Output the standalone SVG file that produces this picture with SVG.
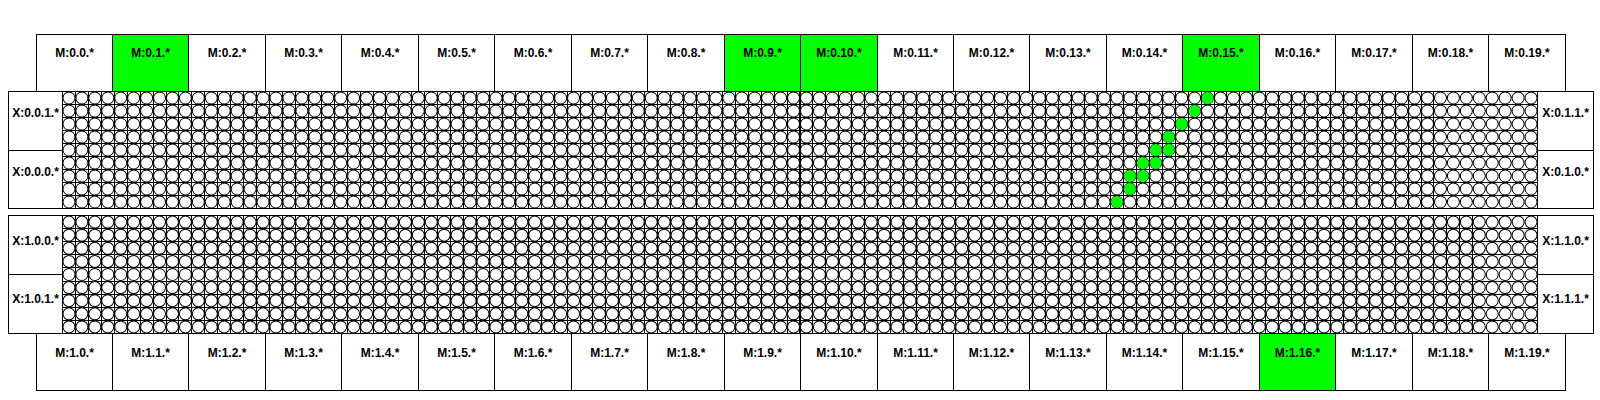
<svg xmlns="http://www.w3.org/2000/svg" width="1600" height="400" viewBox="0 0 1600 400">
<style>
.box{fill:#fff;stroke:#000;stroke-width:1}
.on{fill:#00ff00;stroke:#000;stroke-width:1}
.lbl{font-family:"Liberation Sans",Arial,Helvetica,sans-serif;font-weight:bold;font-size:12px;fill:#000;text-anchor:middle}
.pin{fill:#00ff00;stroke:none}
.frame{fill:none;stroke:#000;stroke-width:1}
.gl{fill:none;stroke:#000;stroke-width:1;shape-rendering:crispEdges}
.c{fill:#fff;stroke:#000;stroke-width:1}
</style>
<defs>
<g id="crow">
<circle class="c" cx="68.96" cy="0" r="6"/><circle class="c" cx="81.88" cy="0" r="6"/><circle class="c" cx="94.80" cy="0" r="6"/><circle class="c" cx="107.72" cy="0" r="6"/><circle class="c" cx="120.64" cy="0" r="6"/><circle class="c" cx="133.56" cy="0" r="6"/><circle class="c" cx="146.48" cy="0" r="6"/><circle class="c" cx="159.40" cy="0" r="6"/><circle class="c" cx="172.32" cy="0" r="6"/><circle class="c" cx="185.24" cy="0" r="6"/>
<circle class="c" cx="198.16" cy="0" r="6"/><circle class="c" cx="211.08" cy="0" r="6"/><circle class="c" cx="224.00" cy="0" r="6"/><circle class="c" cx="236.92" cy="0" r="6"/><circle class="c" cx="249.84" cy="0" r="6"/><circle class="c" cx="262.76" cy="0" r="6"/><circle class="c" cx="275.68" cy="0" r="6"/><circle class="c" cx="288.60" cy="0" r="6"/><circle class="c" cx="301.52" cy="0" r="6"/><circle class="c" cx="314.44" cy="0" r="6"/>
<circle class="c" cx="327.36" cy="0" r="6"/><circle class="c" cx="340.28" cy="0" r="6"/><circle class="c" cx="353.20" cy="0" r="6"/><circle class="c" cx="366.12" cy="0" r="6"/><circle class="c" cx="379.04" cy="0" r="6"/><circle class="c" cx="391.96" cy="0" r="6"/><circle class="c" cx="404.88" cy="0" r="6"/><circle class="c" cx="417.80" cy="0" r="6"/><circle class="c" cx="430.72" cy="0" r="6"/><circle class="c" cx="443.64" cy="0" r="6"/>
<circle class="c" cx="456.56" cy="0" r="6"/><circle class="c" cx="469.48" cy="0" r="6"/><circle class="c" cx="482.40" cy="0" r="6"/><circle class="c" cx="495.32" cy="0" r="6"/><circle class="c" cx="508.24" cy="0" r="6"/><circle class="c" cx="521.16" cy="0" r="6"/><circle class="c" cx="534.08" cy="0" r="6"/><circle class="c" cx="547.00" cy="0" r="6"/><circle class="c" cx="559.92" cy="0" r="6"/><circle class="c" cx="572.84" cy="0" r="6"/>
<circle class="c" cx="585.76" cy="0" r="6"/><circle class="c" cx="598.68" cy="0" r="6"/><circle class="c" cx="611.60" cy="0" r="6"/><circle class="c" cx="624.52" cy="0" r="6"/><circle class="c" cx="637.44" cy="0" r="6"/><circle class="c" cx="650.36" cy="0" r="6"/><circle class="c" cx="663.28" cy="0" r="6"/><circle class="c" cx="676.20" cy="0" r="6"/><circle class="c" cx="689.12" cy="0" r="6"/><circle class="c" cx="702.04" cy="0" r="6"/>
<circle class="c" cx="714.96" cy="0" r="6"/><circle class="c" cx="727.88" cy="0" r="6"/><circle class="c" cx="740.80" cy="0" r="6"/><circle class="c" cx="753.72" cy="0" r="6"/><circle class="c" cx="766.64" cy="0" r="6"/><circle class="c" cx="779.56" cy="0" r="6"/><circle class="c" cx="792.48" cy="0" r="6"/><circle class="c" cx="805.40" cy="0" r="6"/><circle class="c" cx="818.32" cy="0" r="6"/><circle class="c" cx="831.24" cy="0" r="6"/>
<circle class="c" cx="844.16" cy="0" r="6"/><circle class="c" cx="857.08" cy="0" r="6"/><circle class="c" cx="870.00" cy="0" r="6"/><circle class="c" cx="882.92" cy="0" r="6"/><circle class="c" cx="895.84" cy="0" r="6"/><circle class="c" cx="908.76" cy="0" r="6"/><circle class="c" cx="921.68" cy="0" r="6"/><circle class="c" cx="934.60" cy="0" r="6"/><circle class="c" cx="947.52" cy="0" r="6"/><circle class="c" cx="960.44" cy="0" r="6"/>
<circle class="c" cx="973.36" cy="0" r="6"/><circle class="c" cx="986.28" cy="0" r="6"/><circle class="c" cx="999.20" cy="0" r="6"/><circle class="c" cx="1012.12" cy="0" r="6"/><circle class="c" cx="1025.04" cy="0" r="6"/><circle class="c" cx="1037.96" cy="0" r="6"/><circle class="c" cx="1050.88" cy="0" r="6"/><circle class="c" cx="1063.80" cy="0" r="6"/><circle class="c" cx="1076.72" cy="0" r="6"/><circle class="c" cx="1089.64" cy="0" r="6"/>
<circle class="c" cx="1102.56" cy="0" r="6"/><circle class="c" cx="1115.48" cy="0" r="6"/><circle class="c" cx="1128.40" cy="0" r="6"/><circle class="c" cx="1141.32" cy="0" r="6"/><circle class="c" cx="1154.24" cy="0" r="6"/><circle class="c" cx="1167.16" cy="0" r="6"/><circle class="c" cx="1180.08" cy="0" r="6"/><circle class="c" cx="1193.00" cy="0" r="6"/><circle class="c" cx="1205.92" cy="0" r="6"/><circle class="c" cx="1218.84" cy="0" r="6"/>
<circle class="c" cx="1231.76" cy="0" r="6"/><circle class="c" cx="1244.68" cy="0" r="6"/><circle class="c" cx="1257.60" cy="0" r="6"/><circle class="c" cx="1270.52" cy="0" r="6"/><circle class="c" cx="1283.44" cy="0" r="6"/><circle class="c" cx="1296.36" cy="0" r="6"/><circle class="c" cx="1309.28" cy="0" r="6"/><circle class="c" cx="1322.20" cy="0" r="6"/><circle class="c" cx="1335.12" cy="0" r="6"/><circle class="c" cx="1348.04" cy="0" r="6"/>
<circle class="c" cx="1360.96" cy="0" r="6"/><circle class="c" cx="1373.88" cy="0" r="6"/><circle class="c" cx="1386.80" cy="0" r="6"/><circle class="c" cx="1399.72" cy="0" r="6"/><circle class="c" cx="1412.64" cy="0" r="6"/><circle class="c" cx="1425.56" cy="0" r="6"/><circle class="c" cx="1438.48" cy="0" r="6"/><circle class="c" cx="1451.40" cy="0" r="6"/><circle class="c" cx="1464.32" cy="0" r="6"/><circle class="c" cx="1477.24" cy="0" r="6"/>
<circle class="c" cx="1490.16" cy="0" r="6"/><circle class="c" cx="1503.08" cy="0" r="6"/><circle class="c" cx="1516.00" cy="0" r="6"/><circle class="c" cx="1528.92" cy="0" r="6"/>
</g>
</defs>
<rect width="1600" height="400" fill="#fff"/>

<g id="block0">
<rect x="62.5" y="91.5" width="1475" height="117" fill="#fff"/>
<g transform="matrix(1.00144,0,0,1,-0.09,0)">
<path class="gl" d="M75.42,91.5v117m12.92,-117v117m12.92,-117v117m12.92,-117v117m12.92,-117v117m12.92,-117v117m12.92,-117v117m12.92,-117v117m12.92,-117v117m12.92,-117v117m12.92,-117v117m12.92,-117v117m12.92,-117v117m12.92,-117v117m12.92,-117v117m12.92,-117v117m12.92,-117v117m12.92,-117v117m12.92,-117v117m12.92,-117v117m12.92,-117v117m12.92,-117v117m12.92,-117v117m12.92,-117v117m12.92,-117v117m12.92,-117v117m12.92,-117v117m12.92,-117v117m12.92,-117v117m12.92,-117v117m12.92,-117v117m12.92,-117v117m12.92,-117v117m12.92,-117v117m12.92,-117v117m12.92,-117v117m12.92,-117v117m12.92,-117v117m12.92,-117v117m12.92,-117v117m12.92,-117v117m12.92,-117v117m12.92,-117v117m12.92,-117v117m12.92,-117v117m12.92,-117v117m12.92,-117v117m12.92,-117v117m12.92,-117v117m12.92,-117v117m12.92,-117v117m12.92,-117v117m12.92,-117v117m12.92,-117v117m12.92,-117v117m12.92,-117v117m12.92,-117v117m12.92,-117v117m12.92,-117v117m12.92,-117v117m12.92,-117v117m12.92,-117v117m12.92,-117v117m12.92,-117v117m12.92,-117v117m12.92,-117v117m12.92,-117v117m12.92,-117v117m12.92,-117v117m12.92,-117v117m12.92,-117v117m12.92,-117v117m12.92,-117v117m12.92,-117v117m12.92,-117v117m12.92,-117v117m12.92,-117v117m12.92,-117v117m12.92,-117v117m12.92,-117v117m12.92,-117v117m12.92,-117v117m12.92,-117v117m12.92,-117v117m12.92,-117v117m12.92,-117v117m12.92,-117v117m12.92,-117v117m12.92,-117v117m12.92,-117v117m12.92,-117v117m12.92,-117v117m12.92,-117v117m12.92,-117v117m12.92,-117v117m12.92,-117v117m12.92,-117v117m12.92,-117v117m12.92,-117v117m12.92,-117v117m12.92,-117v117m12.92,-117v117m12.92,-117v117m12.92,-117v117m12.92,-117v117m12.92,-117v117M62.5,104.5H1535M62.5,117.5H1535M62.5,130.5H1535M62.5,143.5H1535M62.5,156.5H1535M62.5,169.5H1535M62.5,182.5H1535M62.5,195.5H1535"/>
<use href="#crow" y="98"/><use href="#crow" y="111"/><use href="#crow" y="124"/><use href="#crow" y="137"/><use href="#crow" y="150"/><use href="#crow" y="163"/><use href="#crow" y="176"/><use href="#crow" y="189"/><use href="#crow" y="202"/>
</g>
<rect class="frame" x="8.5" y="91.5" width="1585" height="117"/>
</g>

<g id="block1">
<rect x="62.5" y="215.5" width="1475" height="118" fill="#fff"/>
<g transform="matrix(1.00144,0,0,1,-0.09,0)">
<path class="gl" d="M75.42,215.5v118m12.92,-118v118m12.92,-118v118m12.92,-118v118m12.92,-118v118m12.92,-118v118m12.92,-118v118m12.92,-118v118m12.92,-118v118m12.92,-118v118m12.92,-118v118m12.92,-118v118m12.92,-118v118m12.92,-118v118m12.92,-118v118m12.92,-118v118m12.92,-118v118m12.92,-118v118m12.92,-118v118m12.92,-118v118m12.92,-118v118m12.92,-118v118m12.92,-118v118m12.92,-118v118m12.92,-118v118m12.92,-118v118m12.92,-118v118m12.92,-118v118m12.92,-118v118m12.92,-118v118m12.92,-118v118m12.92,-118v118m12.92,-118v118m12.92,-118v118m12.92,-118v118m12.92,-118v118m12.92,-118v118m12.92,-118v118m12.92,-118v118m12.92,-118v118m12.92,-118v118m12.92,-118v118m12.92,-118v118m12.92,-118v118m12.92,-118v118m12.92,-118v118m12.92,-118v118m12.92,-118v118m12.92,-118v118m12.92,-118v118m12.92,-118v118m12.92,-118v118m12.92,-118v118m12.92,-118v118m12.92,-118v118m12.92,-118v118m12.92,-118v118m12.92,-118v118m12.92,-118v118m12.92,-118v118m12.92,-118v118m12.92,-118v118m12.92,-118v118m12.92,-118v118m12.92,-118v118m12.92,-118v118m12.92,-118v118m12.92,-118v118m12.92,-118v118m12.92,-118v118m12.92,-118v118m12.92,-118v118m12.92,-118v118m12.92,-118v118m12.92,-118v118m12.92,-118v118m12.92,-118v118m12.92,-118v118m12.92,-118v118m12.92,-118v118m12.92,-118v118m12.92,-118v118m12.92,-118v118m12.92,-118v118m12.92,-118v118m12.92,-118v118m12.92,-118v118m12.92,-118v118m12.92,-118v118m12.92,-118v118m12.92,-118v118m12.92,-118v118m12.92,-118v118m12.92,-118v118m12.92,-118v118m12.92,-118v118m12.92,-118v118m12.92,-118v118m12.92,-118v118m12.92,-118v118m12.92,-118v118m12.92,-118v118m12.92,-118v118m12.92,-118v118m12.92,-118v118m12.92,-118v118m12.92,-118v118m12.92,-118v118m12.92,-118v118M62.5,228.6H1535M62.5,241.7H1535M62.5,254.8H1535M62.5,267.9H1535M62.5,281.1H1535M62.5,294.2H1535M62.5,307.3H1535M62.5,320.4H1535"/>
<use href="#crow" y="222.06"/><use href="#crow" y="235.17"/><use href="#crow" y="248.28"/><use href="#crow" y="261.39"/><use href="#crow" y="274.5"/><use href="#crow" y="287.61"/><use href="#crow" y="300.72"/><use href="#crow" y="313.83"/><use href="#crow" y="326.94"/>
</g>
<rect class="frame" x="8.5" y="215.5" width="1585" height="118"/>
</g>

<g id="pins">
<circle class="pin" cx="1117.00" cy="202" r="5.9"/>
<circle class="pin" cx="1129.94" cy="189" r="5.9"/>
<circle class="pin" cx="1129.94" cy="176" r="5.9"/>
<circle class="pin" cx="1142.88" cy="176" r="5.9"/>
<circle class="pin" cx="1142.88" cy="163" r="5.9"/>
<circle class="pin" cx="1155.82" cy="163" r="5.9"/>
<circle class="pin" cx="1155.82" cy="150" r="5.9"/>
<circle class="pin" cx="1168.76" cy="150" r="5.9"/>
<circle class="pin" cx="1168.76" cy="137" r="5.9"/>
<circle class="pin" cx="1181.70" cy="124" r="5.9"/>
<circle class="pin" cx="1194.63" cy="111" r="5.9"/>
<circle class="pin" cx="1207.57" cy="98" r="5.9"/>
</g>

<g id="x0_0_1"><rect class="box" x="8.5" y="91.5" width="54" height="59"/><text class="lbl" x="35.5" y="117">X:0.0.1.*</text></g>
<g id="x0_0_0"><rect class="box" x="8.5" y="150.5" width="54" height="58"/><text class="lbl" x="35.5" y="176">X:0.0.0.*</text></g>
<g id="x0_1_1"><rect class="box" x="1537.5" y="91.5" width="56" height="59"/><text class="lbl" x="1565.5" y="117">X:0.1.1.*</text></g>
<g id="x0_1_0"><rect class="box" x="1537.5" y="150.5" width="56" height="58"/><text class="lbl" x="1565.5" y="176">X:0.1.0.*</text></g>
<g id="x1_0_0"><rect class="box" x="8.5" y="215.5" width="54" height="59"/><text class="lbl" x="35.5" y="244.5">X:1.0.0.*</text></g>
<g id="x1_0_1"><rect class="box" x="8.5" y="274.5" width="54" height="59"/><text class="lbl" x="35.5" y="303">X:1.0.1.*</text></g>
<g id="x1_1_0"><rect class="box" x="1537.5" y="215.5" width="56" height="59"/><text class="lbl" x="1565.5" y="244.5">X:1.1.0.*</text></g>
<g id="x1_1_1"><rect class="box" x="1537.5" y="274.5" width="56" height="59"/><text class="lbl" x="1565.5" y="303">X:1.1.1.*</text></g>

<g id="m0_0"><rect class="box" x="36.5" y="34.5" width="76" height="57"/><text class="lbl" x="74.5" y="57">M:0.0.*</text></g>
<g id="m0_1"><rect class="on" x="112.5" y="34.5" width="76" height="57"/><text class="lbl" x="150.5" y="57">M:0.1.*</text></g>
<g id="m0_2"><rect class="box" x="188.5" y="34.5" width="77" height="57"/><text class="lbl" x="227" y="57">M:0.2.*</text></g>
<g id="m0_3"><rect class="box" x="265.5" y="34.5" width="76" height="57"/><text class="lbl" x="303.5" y="57">M:0.3.*</text></g>
<g id="m0_4"><rect class="box" x="341.5" y="34.5" width="77" height="57"/><text class="lbl" x="380" y="57">M:0.4.*</text></g>
<g id="m0_5"><rect class="box" x="418.5" y="34.5" width="76" height="57"/><text class="lbl" x="456.5" y="57">M:0.5.*</text></g>
<g id="m0_6"><rect class="box" x="494.5" y="34.5" width="77" height="57"/><text class="lbl" x="533" y="57">M:0.6.*</text></g>
<g id="m0_7"><rect class="box" x="571.5" y="34.5" width="76" height="57"/><text class="lbl" x="609.5" y="57">M:0.7.*</text></g>
<g id="m0_8"><rect class="box" x="647.5" y="34.5" width="77" height="57"/><text class="lbl" x="686" y="57">M:0.8.*</text></g>
<g id="m0_9"><rect class="on" x="724.5" y="34.5" width="76" height="57"/><text class="lbl" x="762.5" y="57">M:0.9.*</text></g>
<g id="m0_10"><rect class="on" x="800.5" y="34.5" width="77" height="57"/><text class="lbl" x="839" y="57">M:0.10.*</text></g>
<g id="m0_11"><rect class="box" x="877.5" y="34.5" width="76" height="57"/><text class="lbl" x="915.5" y="57">M:0.11.*</text></g>
<g id="m0_12"><rect class="box" x="953.5" y="34.5" width="76" height="57"/><text class="lbl" x="991.5" y="57">M:0.12.*</text></g>
<g id="m0_13"><rect class="box" x="1029.5" y="34.5" width="77" height="57"/><text class="lbl" x="1068" y="57">M:0.13.*</text></g>
<g id="m0_14"><rect class="box" x="1106.5" y="34.5" width="76" height="57"/><text class="lbl" x="1144.5" y="57">M:0.14.*</text></g>
<g id="m0_15"><rect class="on" x="1182.5" y="34.5" width="77" height="57"/><text class="lbl" x="1221" y="57">M:0.15.*</text></g>
<g id="m0_16"><rect class="box" x="1259.5" y="34.5" width="76" height="57"/><text class="lbl" x="1297.5" y="57">M:0.16.*</text></g>
<g id="m0_17"><rect class="box" x="1335.5" y="34.5" width="77" height="57"/><text class="lbl" x="1374" y="57">M:0.17.*</text></g>
<g id="m0_18"><rect class="box" x="1412.5" y="34.5" width="76" height="57"/><text class="lbl" x="1450.5" y="57">M:0.18.*</text></g>
<g id="m0_19"><rect class="box" x="1488.5" y="34.5" width="77" height="57"/><text class="lbl" x="1527" y="57">M:0.19.*</text></g>

<g id="m1_0"><rect class="box" x="36.5" y="333.5" width="76" height="57"/><text class="lbl" x="74.5" y="357">M:1.0.*</text></g>
<g id="m1_1"><rect class="box" x="112.5" y="333.5" width="76" height="57"/><text class="lbl" x="150.5" y="357">M:1.1.*</text></g>
<g id="m1_2"><rect class="box" x="188.5" y="333.5" width="77" height="57"/><text class="lbl" x="227" y="357">M:1.2.*</text></g>
<g id="m1_3"><rect class="box" x="265.5" y="333.5" width="76" height="57"/><text class="lbl" x="303.5" y="357">M:1.3.*</text></g>
<g id="m1_4"><rect class="box" x="341.5" y="333.5" width="77" height="57"/><text class="lbl" x="380" y="357">M:1.4.*</text></g>
<g id="m1_5"><rect class="box" x="418.5" y="333.5" width="76" height="57"/><text class="lbl" x="456.5" y="357">M:1.5.*</text></g>
<g id="m1_6"><rect class="box" x="494.5" y="333.5" width="77" height="57"/><text class="lbl" x="533" y="357">M:1.6.*</text></g>
<g id="m1_7"><rect class="box" x="571.5" y="333.5" width="76" height="57"/><text class="lbl" x="609.5" y="357">M:1.7.*</text></g>
<g id="m1_8"><rect class="box" x="647.5" y="333.5" width="77" height="57"/><text class="lbl" x="686" y="357">M:1.8.*</text></g>
<g id="m1_9"><rect class="box" x="724.5" y="333.5" width="76" height="57"/><text class="lbl" x="762.5" y="357">M:1.9.*</text></g>
<g id="m1_10"><rect class="box" x="800.5" y="333.5" width="77" height="57"/><text class="lbl" x="839" y="357">M:1.10.*</text></g>
<g id="m1_11"><rect class="box" x="877.5" y="333.5" width="76" height="57"/><text class="lbl" x="915.5" y="357">M:1.11.*</text></g>
<g id="m1_12"><rect class="box" x="953.5" y="333.5" width="76" height="57"/><text class="lbl" x="991.5" y="357">M:1.12.*</text></g>
<g id="m1_13"><rect class="box" x="1029.5" y="333.5" width="77" height="57"/><text class="lbl" x="1068" y="357">M:1.13.*</text></g>
<g id="m1_14"><rect class="box" x="1106.5" y="333.5" width="76" height="57"/><text class="lbl" x="1144.5" y="357">M:1.14.*</text></g>
<g id="m1_15"><rect class="box" x="1182.5" y="333.5" width="77" height="57"/><text class="lbl" x="1221" y="357">M:1.15.*</text></g>
<g id="m1_16"><rect class="on" x="1259.5" y="333.5" width="76" height="57"/><text class="lbl" x="1297.5" y="357">M:1.16.*</text></g>
<g id="m1_17"><rect class="box" x="1335.5" y="333.5" width="77" height="57"/><text class="lbl" x="1374" y="357">M:1.17.*</text></g>
<g id="m1_18"><rect class="box" x="1412.5" y="333.5" width="76" height="57"/><text class="lbl" x="1450.5" y="357">M:1.18.*</text></g>
<g id="m1_19"><rect class="box" x="1488.5" y="333.5" width="77" height="57"/><text class="lbl" x="1527" y="357">M:1.19.*</text></g>

<g id="connectors"/>
</svg>
